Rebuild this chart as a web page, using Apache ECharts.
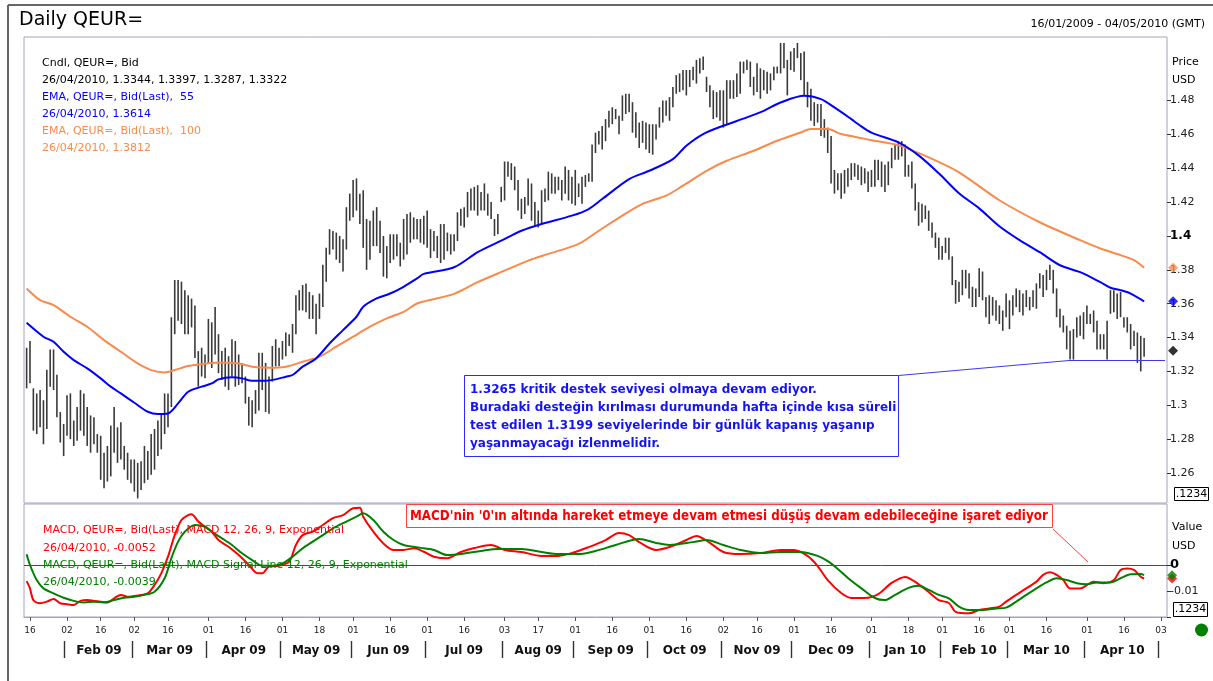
<!DOCTYPE html>
<html>
<head>
<meta charset="utf-8">
<title>Daily QEUR=</title>
<script src="https://cdn.jsdelivr.net/npm/echarts@6/dist/echarts.min.js"></script>
<style>
  html, body { margin: 0; padding: 0; background: #fff; }
  #chart { width: 1213px; height: 681px; }
</style>
</head>
<body>
<div id="chart"></div>
<script>
// x values are trading days (weekdays) counted from 15/01/2009 = day 0
var firstDay = Date.UTC(2009, 0, 15);

// daily high / low of the candles
var high = [
  1.334,1.338,1.310,1.307,1.309,1.303,1.321,1.333,1.333,1.318,
  1.296,1.289,1.306,1.307,1.291,1.299,1.309,1.307,1.299,1.294,
  1.293,1.283,1.282,1.272,1.276,1.288,1.299,1.287,1.290,1.276,
  1.272,1.268,1.268,1.266,1.267,1.276,1.273,1.283,1.286,1.291,
  1.295,1.307,1.307,1.352,1.374,1.374,1.373,1.368,1.365,1.363,
  1.359,1.332,1.334,1.330,1.351,1.349,1.358,1.342,1.332,1.334,
  1.329,1.339,1.338,1.330,1.325,1.317,1.305,1.303,1.309,1.331,
  1.331,1.325,1.317,1.335,1.339,1.334,1.338,1.343,1.342,1.348,
  1.365,1.368,1.371,1.372,1.367,1.365,1.360,1.366,1.383,1.393,
  1.404,1.403,1.402,1.400,1.398,1.417,1.425,1.433,1.434,1.425,
  1.427,1.410,1.409,1.415,1.417,1.409,1.400,1.394,1.401,1.401,
  1.401,1.396,1.410,1.413,1.414,1.411,1.410,1.410,1.412,1.415,
  1.404,1.403,1.400,1.407,1.407,1.402,1.401,1.401,1.414,1.416,
  1.417,1.426,1.428,1.429,1.430,1.426,1.431,1.425,1.420,1.410,
  1.413,1.429,1.444,1.444,1.443,1.441,1.433,1.422,1.423,1.434,
  1.431,1.420,1.415,1.427,1.428,1.438,1.437,1.435,1.435,1.433,
  1.441,1.439,1.435,1.439,1.431,1.435,1.436,1.437,1.454,1.461,
  1.462,1.465,1.469,1.474,1.476,1.475,1.471,1.483,1.484,1.484,
  1.479,1.473,1.467,1.468,1.467,1.466,1.466,1.466,1.476,1.480,
  1.480,1.482,1.488,1.495,1.496,1.498,1.498,1.498,1.500,1.504,
  1.505,1.506,1.494,1.489,1.486,1.485,1.486,1.486,1.492,1.492,
  1.492,1.496,1.503,1.503,1.504,1.503,1.494,1.502,1.499,1.498,
  1.497,1.496,1.500,1.500,1.514,1.514,1.504,1.509,1.511,1.514,
  1.508,1.509,1.491,1.487,1.479,1.478,1.478,1.469,1.464,1.459,
  1.439,1.437,1.437,1.439,1.440,1.443,1.443,1.442,1.441,1.440,
  1.438,1.439,1.445,1.445,1.444,1.442,1.444,1.452,1.454,1.456,
  1.456,1.454,1.442,1.444,1.431,1.420,1.419,1.418,1.415,1.408,
  1.402,1.399,1.394,1.399,1.399,1.388,1.374,1.373,1.380,1.380,
  1.378,1.370,1.369,1.381,1.379,1.364,1.365,1.364,1.362,1.359,
  1.356,1.366,1.362,1.365,1.369,1.368,1.366,1.368,1.364,1.368,
  1.372,1.378,1.377,1.380,1.383,1.380,1.369,1.357,1.353,1.347,
  1.344,1.345,1.352,1.353,1.355,1.359,1.354,1.356,1.350,1.342,
  1.342,1.350,1.368,1.368,1.366,1.367,1.352,1.352,1.348,1.344,
  1.343,1.341,1.3397
];
var low = [
  1.310,1.313,1.285,1.283,1.287,1.277,1.286,1.311,1.309,1.293,
  1.278,1.270,1.282,1.280,1.276,1.279,1.285,1.282,1.276,1.272,
  1.277,1.272,1.256,1.251,1.255,1.258,1.272,1.266,1.268,1.262,
  1.256,1.254,1.249,1.245,1.250,1.254,1.256,1.259,1.262,1.270,
  1.274,1.283,1.287,1.299,1.342,1.350,1.348,1.342,1.342,1.346,
  1.328,1.311,1.317,1.316,1.325,1.322,1.330,1.319,1.315,1.311,
  1.309,1.317,1.311,1.312,1.313,1.301,1.288,1.287,1.295,1.297,
  1.309,1.296,1.295,1.314,1.323,1.323,1.327,1.329,1.335,1.331,
  1.342,1.356,1.356,1.355,1.351,1.351,1.342,1.351,1.358,1.373,
  1.389,1.392,1.386,1.384,1.379,1.392,1.409,1.411,1.415,1.407,
  1.393,1.380,1.386,1.394,1.394,1.390,1.376,1.375,1.384,1.386,
  1.388,1.382,1.386,1.389,1.396,1.398,1.398,1.396,1.395,1.393,
  1.387,1.391,1.387,1.384,1.386,1.391,1.389,1.391,1.397,1.406,
  1.405,1.411,1.415,1.415,1.412,1.415,1.415,1.412,1.410,1.400,
  1.401,1.420,1.421,1.435,1.433,1.427,1.415,1.410,1.413,1.418,
  1.409,1.406,1.405,1.407,1.420,1.421,1.425,1.425,1.427,1.421,
  1.425,1.421,1.419,1.418,1.423,1.419,1.429,1.432,1.432,1.449,
  1.454,1.451,1.456,1.464,1.466,1.469,1.460,1.468,1.472,1.473,
  1.461,1.458,1.452,1.455,1.451,1.449,1.448,1.457,1.464,1.467,
  1.471,1.468,1.476,1.484,1.485,1.486,1.483,1.488,1.492,1.490,
  1.496,1.498,1.485,1.476,1.469,1.470,1.468,1.464,1.466,1.481,
  1.481,1.482,1.484,1.496,1.498,1.488,1.483,1.485,1.481,1.486,
  1.484,1.486,1.492,1.496,1.496,1.499,1.483,1.498,1.497,1.505,
  1.492,1.483,1.476,1.468,1.465,1.467,1.459,1.458,1.449,1.431,
  1.425,1.427,1.422,1.425,1.429,1.433,1.435,1.433,1.430,1.431,
  1.426,1.429,1.429,1.433,1.429,1.426,1.430,1.440,1.445,1.445,
  1.447,1.435,1.435,1.428,1.415,1.406,1.408,1.410,1.403,1.399,
  1.393,1.386,1.386,1.390,1.386,1.371,1.360,1.361,1.365,1.369,
  1.363,1.358,1.358,1.364,1.362,1.352,1.348,1.353,1.350,1.348,
  1.344,1.352,1.345,1.353,1.358,1.355,1.353,1.358,1.356,1.358,
  1.357,1.369,1.364,1.368,1.374,1.366,1.352,1.346,1.343,1.333,
  1.327,1.327,1.340,1.341,1.339,1.348,1.348,1.343,1.333,1.333,
  1.333,1.327,1.354,1.355,1.351,1.352,1.346,1.343,1.333,1.335,
  1.325,1.320,1.3287
];
var lastOpen = 1.3344;
var lastClose = 1.3322;

// EMA 55 and EMA 100
var ema55Day = [0,5,8,11,14,18,22,25,28,32,36,39,42,45,48,52,55,57,61,64,
  67,71,74,77,79,82,86,90,94,98,100,104,108,112,116,118,127,134,141,147,
  153,162,167,171,179,185,192,196,201,207,214,219,224,231,236,240,245,247,251,259,
  265,271,277,283,289,295,301,307,313,319,322,325,328,332];
var ema55 = [1.3487,1.3405,1.3375,1.3316,1.3267,1.3218,1.3159,1.3110,1.3070,1.3015,
  1.2962,1.2948,1.2952,1.3011,1.3080,1.3110,1.3129,1.3153,1.3165,1.3159,
  1.3145,1.3145,1.3153,1.3169,1.3179,1.3228,1.3277,1.3365,1.3444,1.3523,
  1.3582,1.3631,1.3660,1.3700,1.3749,1.3776,1.3815,1.3904,1.3972,1.4031,
  1.4071,1.4120,1.4159,1.4218,1.4336,1.4385,1.4454,1.4533,1.4602,1.4651,
  1.4700,1.4739,1.4788,1.4828,1.4808,1.4759,1.4690,1.4661,1.4610,1.4553,
  1.4476,1.4370,1.4252,1.4163,1.4057,1.3975,1.3904,1.3827,1.3786,1.3727,
  1.3694,1.3680,1.3660,1.3614];
var ema100Day = [0,4,8,13,18,23,28,33,37,41,44,48,52,56,60,63,67,72,77,82,
  87,92,97,102,107,112,116,119,127,134,142,149,155,164,170,177,183,190,195,202,
  208,216,223,230,233,238,242,247,251,259,268,277,289,301,313,319,325,329,332];
var ema100 = [1.3690,1.3621,1.3592,1.3523,1.3464,1.3385,1.3316,1.3247,1.3208,1.3194,
  1.3208,1.3232,1.3243,1.3251,1.3251,1.3247,1.3228,1.3222,1.3228,1.3257,
  1.3287,1.3346,1.3405,1.3464,1.3513,1.3552,1.3601,1.3618,1.3658,1.3727,
  1.3795,1.3854,1.3894,1.3953,1.4031,1.4120,1.4189,1.4238,1.4297,1.4385,
  1.4444,1.4503,1.4562,1.4611,1.4631,1.4631,1.4602,1.4582,1.4565,1.4535,
  1.4464,1.4376,1.4211,1.4081,1.3975,1.3926,1.3887,1.3857,1.3812];

// MACD 12,26,9 and its signal line
var macdDay = [0,1,2,4,6,8,10,12,14,16,18,20,22,24,26,28,30,32,34,36,
  38,40,42,44,46,48,49,51,53,55,57,60,63,66,68,70,72,75,78,80,
  82,85,88,91,94,97,99,100,103,106,109,112,115,118,121,125,129,133,138,142,
  147,153,158,163,167,172,176,179,182,187,191,196,199,203,207,212,218,224,228,232,
  235,238,242,245,249,253,257,261,264,268,271,274,276,280,283,286,289,291,294,297,
  300,302,304,306,308,310,313,315,317,320,323,325,327,329,331,332];
var macd = [-0.0062,-0.0090,-0.0135,-0.0147,-0.0141,-0.0131,-0.0147,-0.0151,-0.0154,-0.0138,
  -0.0135,-0.0138,-0.0141,-0.0144,-0.0128,-0.0115,-0.0122,-0.0119,-0.0115,-0.0109,
  -0.0077,-0.0032,0.0032,0.0115,0.0173,0.0192,0.0195,0.0167,0.0147,0.0128,
  0.0096,0.0070,0.0038,0.0000,-0.0028,-0.0032,-0.0006,-0.0003,0.0013,0.0077,
  0.0115,0.0128,0.0154,0.0180,0.0192,0.0218,0.0220,0.0186,0.0128,0.0083,
  0.0058,0.0058,0.0064,0.0051,0.0032,0.0026,0.0050,0.0065,0.0077,0.0058,
  0.0050,0.0035,0.0035,0.0050,0.0069,0.0096,0.0123,0.0115,0.0088,0.0058,
  0.0069,0.0096,0.0112,0.0085,0.0050,0.0042,0.0046,0.0058,0.0058,0.0035,
  -0.0004,-0.0058,-0.0108,-0.0127,-0.0127,-0.0112,-0.0069,-0.0046,-0.0065,-0.0104,
  -0.0135,-0.0146,-0.0180,-0.0186,-0.0173,-0.0167,-0.0160,-0.0141,-0.0115,-0.0090,
  -0.0064,-0.0038,-0.0028,-0.0038,-0.0058,-0.0090,-0.0090,-0.0077,-0.0064,-0.0070,
  -0.0058,-0.0019,-0.0013,-0.0019,-0.0045,-0.0052];
var signalDay = [0,1,3,5,8,11,14,17,20,23,26,29,32,35,38,41,43,45,47,50,
  53,55,58,61,64,67,70,73,76,79,82,85,88,91,95,98,100,103,106,109,
  112,115,118,121,125,129,135,140,147,153,158,164,169,175,182,187,191,198,202,207,
  212,218,224,230,235,238,241,244,248,252,255,258,262,265,268,271,274,277,280,284,
  288,291,294,297,300,303,306,309,312,315,318,322,325,328,331,332];
var signal = [0.0041,0.0000,-0.0058,-0.0090,-0.0109,-0.0126,-0.0138,-0.0144,-0.0141,-0.0144,
  -0.0135,-0.0126,-0.0122,-0.0115,-0.0103,-0.0051,0.0026,0.0090,0.0128,0.0154,
  0.0147,0.0128,0.0103,0.0077,0.0045,0.0019,-0.0003,-0.0003,0.0006,0.0032,
  0.0064,0.0090,0.0115,0.0141,0.0167,0.0186,0.0199,0.0173,0.0128,0.0096,
  0.0077,0.0070,0.0064,0.0058,0.0038,0.0042,0.0054,0.0062,0.0062,0.0050,
  0.0042,0.0042,0.0054,0.0077,0.0100,0.0085,0.0077,0.0088,0.0096,0.0077,
  0.0058,0.0046,0.0050,0.0050,0.0035,0.0015,-0.0015,-0.0050,-0.0090,-0.0127,
  -0.0135,-0.0115,-0.0088,-0.0080,-0.0096,-0.0115,-0.0128,-0.0160,-0.0173,-0.0173,
  -0.0167,-0.0164,-0.0141,-0.0115,-0.0090,-0.0067,-0.0051,-0.0058,-0.0070,-0.0074,
  -0.0067,-0.0067,-0.0051,-0.0036,-0.0035,-0.0039];

var priceTicks = [1.26, 1.28, 1.3, 1.32, 1.34, 1.36, 1.38, 1.4, 1.42, 1.44, 1.46, 1.48];
var macdTicks = [-0.02, -0.01, 0];
var macdLabels = [-0.01, 0];
var supportLevel = 1.3265;
var supportFrom = 310;
var monthNames = ['Jan', 'Feb', 'Mar', 'Apr', 'May', 'Jun', 'Jul', 'Aug', 'Sep', 'Oct', 'Nov', 'Dec'];

var xMin = -0.78, xMax = 338.8;
var FONT = '"DejaVu Sans", Verdana, sans-serif';

// weekday calendar
var days = [];
for (var t = firstDay; days.length < 380; t += 86400000) {
  var wd = new Date(t).getUTCDay();
  if (wd !== 0 && wd !== 6) days.push(new Date(t));
}

// day labels: first weekday of the month and first weekday from the 16th
var dayTicks = [];
for (var d = 1; d <= xMax; d++) {
  var a = days[d - 1], b = days[d];
  if (a.getUTCMonth() !== b.getUTCMonth() || (a.getUTCDate() < 16 && b.getUTCDate() >= 16)) dayTicks.push(d);
}

// month row
var monthStarts = [];
for (var d2 = 1; d2 < days.length; d2++) {
  if (days[d2].getUTCMonth() !== days[d2 - 1].getUTCMonth()) monthStarts.push(d2);
}
var monthSep = [], monthMid = [], monthText = {};
monthStarts.forEach(function (s, k) {
  if (s > xMax) return;
  monthSep.push(s - 0.7);
  var e = monthStarts[k + 1];
  if (e !== undefined && e <= xMax + 1) {
    var mid = (s + e - 1) / 2;
    monthMid.push(mid);
    var dt = days[s];
    monthText[Math.round(mid * 2)] = monthNames[dt.getUTCMonth()] + ' ' + String(dt.getUTCFullYear()).slice(2);
  }
});

var bars = high.map(function (h, i) { return [i, h, low[i]]; });
function pairs(xs, ys) { return xs.map(function (x, i) { return [x, ys[i]]; }); }
var lastDay = high.length - 1;
var markerDay = xMax + 1.8;

var chart = echarts.init(document.getElementById('chart'));

function txt(x, y, text, color, font, extra) {
  return {
    type: 'text', x: x, y: y, z: 100,
    style: Object.assign({ text: text, fill: color, font: font, textVerticalAlign: 'middle', verticalAlign: 'middle' }, extra || {})
  };
}
var f11 = '11px ' + FONT;

var option = {
  backgroundColor: '#fff',
  animation: false,
  grid: [
    { left: 24, right: 46, top: 37, height: 466, show: true, borderColor: '#a4a4bc', borderWidth: 1 },
    { left: 24, right: 46, top: 504, height: 113, show: true, borderColor: '#a4a4bc', borderWidth: 1 }
  ],
  xAxis: [
    { type: 'value', gridIndex: 0, min: xMin, max: xMax, show: false },
    {
      type: 'value', gridIndex: 1, position: 'bottom', min: xMin, max: xMax,
      axisLine: { show: true, onZero: false, lineStyle: { color: '#a4a4bc' } },
      axisTick: { show: true, customValues: dayTicks, length: 4, lineStyle: { color: '#555' } },
      axisLabel: {
        customValues: dayTicks, margin: 9, fontSize: 9, fontFamily: FONT, color: '#222',
        formatter: function (v) { var n = days[Math.round(v)].getUTCDate(); return (n < 10 ? '0' : '') + n; }
      },
      splitLine: { show: false }
    },
    {
      type: 'value', gridIndex: 1, position: 'bottom', min: xMin, max: xMax, offset: 24,
      axisLine: { show: false, onZero: false },
      axisTick: { show: true, customValues: monthSep, length: 17, lineStyle: { color: '#333', width: 1.4 } },
      axisLabel: {
        customValues: monthMid, margin: 4, fontSize: 12, fontWeight: 'bold', fontFamily: FONT, color: '#111',
        formatter: function (v) { return monthText[Math.round(v * 2)] || ''; }
      },
      splitLine: { show: false }
    }
  ],
  yAxis: [
    {
      type: 'value', gridIndex: 0, position: 'right', min: 1.2423, max: 1.5175,
      axisLine: { show: false, onZero: false },
      axisTick: { show: true, customValues: priceTicks, length: 4, lineStyle: { color: '#333' } },
      axisLabel: {
        customValues: priceTicks, margin: 3, fontSize: 11, fontFamily: FONT, color: '#222',
        formatter: function (v) {
          var s = String(+v.toFixed(2));
          return Math.abs(v - 1.4) < 1e-6 ? '{b|' + s + '}' : s;
        },
        rich: { b: { fontSize: 12, fontWeight: 'bold', fontFamily: FONT, color: '#000' } }
      },
      splitLine: { show: false }
    },
    {
      type: 'value', gridIndex: 1, position: 'right', min: -0.02, max: 0.02346,
      axisLine: { show: false, onZero: false },
      axisTick: { show: true, customValues: macdTicks, length: 4, lineStyle: { color: '#333' } },
      axisLabel: {
        customValues: macdLabels, margin: 3, fontSize: 11, fontFamily: FONT, color: '#222',
        formatter: function (v) { return v === 0 ? '{b|0}' : String(v); },
        rich: { b: { fontSize: 13, fontWeight: 'bold', fontFamily: FONT, color: '#000' } }
      },
      splitLine: { show: false }
    }
  ],
  series: [
    {
      name: 'Cndl', type: 'custom', xAxisIndex: 0, yAxisIndex: 0, z: 2,
      encode: { x: 0, y: [1, 2] },
      renderItem: function (params, api) {
        var top = api.coord([api.value(0), api.value(1)]);
        var bottom = api.coord([api.value(0), api.value(2)]);
        return {
          type: 'line',
          shape: { x1: top[0], y1: top[1], x2: bottom[0], y2: bottom[1] },
          style: { stroke: '#3a3a3a', lineWidth: 1.6 }
        };
      },
      data: bars
    },
    {
      name: 'EMA 100', type: 'line', xAxisIndex: 0, yAxisIndex: 0, z: 3,
      data: pairs(ema100Day, ema100), showSymbol: false, smooth: 0.3,
      lineStyle: { color: '#f98a4c', width: 2 }
    },
    {
      name: 'EMA 55', type: 'line', xAxisIndex: 0, yAxisIndex: 0, z: 4,
      data: pairs(ema55Day, ema55), showSymbol: false, smooth: 0.3,
      lineStyle: { color: '#0000ff', width: 2 },
      markLine: {
        silent: true, symbol: 'none', label: { show: false },
        lineStyle: { color: '#3a3ae6', width: 1, type: 'solid' },
        data: [[{ coord: [supportFrom, supportLevel] }, { coord: [xMax - 0.6, supportLevel] }]]
      }
    },
    {
      type: 'scatter', xAxisIndex: 0, yAxisIndex: 0, z: 10, clip: false,
      symbol: 'diamond', symbolSize: 10, silent: true,
      data: [
        { value: [markerDay, ema100[ema100.length - 1]], itemStyle: { color: '#f98a4c' } },
        { value: [markerDay, ema55[ema55.length - 1]], itemStyle: { color: '#0000ff' } },
        { value: [markerDay, lastClose], itemStyle: { color: '#000' } }
      ]
    },
    {
      name: 'MACD', type: 'line', xAxisIndex: 1, yAxisIndex: 1, z: 3,
      data: pairs(macdDay, macd), showSymbol: false, smooth: 0.3,
      lineStyle: { color: '#ff0000', width: 2 },
      markLine: {
        silent: true, symbol: 'none', label: { show: false },
        lineStyle: { color: '#ff0000', width: 1, type: 'solid' },
        data: [{ yAxis: 0 }]
      }
    },
    {
      name: 'Signal', type: 'line', xAxisIndex: 1, yAxisIndex: 1, z: 4,
      data: pairs(signalDay, signal), showSymbol: false, smooth: 0.3,
      lineStyle: { color: '#008000', width: 2 }
    },
    {
      type: 'scatter', xAxisIndex: 1, yAxisIndex: 1, z: 10, clip: false,
      symbol: 'diamond', symbolSize: 10, silent: true,
      data: [
        { value: [markerDay - 0.3, macd[macd.length - 1]], itemStyle: { color: '#ff0000' } },
        { value: [markerDay - 0.3, signal[signal.length - 1]], itemStyle: { color: '#008000' } }
      ]
    }
  ],
  graphic: [
    { type: 'line', z: 100, shape: { x1: 8, y1: 5, x2: 1213, y2: 5 }, style: { stroke: '#666', lineWidth: 2 } },
    { type: 'line', z: 100, shape: { x1: 8, y1: 5, x2: 8, y2: 681 }, style: { stroke: '#666', lineWidth: 2 } },
    txt(19, 20, 'Daily QEUR=', '#000', '19px ' + FONT),
    txt(1205, 24, '16/01/2009 - 04/05/2010 (GMT)', '#000', f11, { textAlign: 'right', align: 'right' }),
    txt(42, 63, 'Cndl, QEUR=, Bid', '#000', f11),
    txt(42, 80, '26/04/2010, ' + [lastOpen, high[lastDay], low[lastDay], lastClose].map(function (v) { return v.toFixed(4); }).join(', '), '#000', f11),
    txt(42, 97, 'EMA, QEUR=, Bid(Last),  55', '#0000ff', f11),
    txt(42, 114, '26/04/2010, ' + ema55[ema55.length - 1].toFixed(4), '#0000ff', f11),
    txt(42, 131, 'EMA, QEUR=, Bid(Last),  100', '#f98a4c', f11),
    txt(42, 148, '26/04/2010, ' + ema100[ema100.length - 1].toFixed(4), '#f98a4c', f11),
    txt(43, 530, 'MACD, QEUR=, Bid(Last), MACD 12, 26, 9, Exponential', '#ff0000', f11),
    txt(43, 548, '26/04/2010, ' + macd[macd.length - 1].toFixed(4), '#ff0000', f11),
    txt(43, 565, 'MACD, QEUR=, Bid(Last), MACD Signal Line 12, 26, 9, Exponential', '#008000', f11),
    txt(43, 582, '26/04/2010, ' + signal[signal.length - 1].toFixed(4), '#008000', f11),
    txt(1172, 62, 'Price', '#000', f11),
    txt(1172, 80, 'USD', '#000', f11),
    txt(1172, 527, 'Value', '#000', f11),
    txt(1172, 546, 'USD', '#000', f11),
    { type: 'rect', z: 100, shape: { x: 1174.5, y: 487.5, width: 34, height: 13 }, style: { fill: '#fff', stroke: '#000', lineWidth: 1 } },
    txt(1191.5, 494, '.1234', '#000', f11, { textAlign: 'center', align: 'center' }),
    { type: 'rect', z: 100, shape: { x: 1173.5, y: 602.5, width: 34, height: 14 }, style: { fill: '#fff', stroke: '#000', lineWidth: 1 } },
    txt(1190.5, 609.5, '.1234', '#000', f11, { textAlign: 'center', align: 'center' }),
    { type: 'circle', z: 100, shape: { cx: 1201.5, cy: 630, r: 6.5 }, style: { fill: '#008000' } },
    // blue support note
    { type: 'rect', z: 100, shape: { x: 464.5, y: 375.5, width: 434, height: 81 }, style: { fill: '#fff', stroke: '#2a2aff', lineWidth: 1 } },
    {
      type: 'text', x: 470, y: 381, z: 101,
      style: {
        text: '1.3265 kritik destek seviyesi olmaya devam ediyor.\nBuradaki desteğin kırılması durumunda hafta içinde kısa süreli\ntest edilen 1.3199 seviyelerinde bir günlük kapanış yaşanıp\nyaşanmayacağı izlenmelidir.',
        fill: '#1414f0', font: 'bold 12px ' + FONT, lineHeight: 18
      }
    },
    // red MACD note
    { type: 'rect', z: 100, shape: { x: 406.5, y: 504.5, width: 646, height: 23 }, style: { fill: '#fff', stroke: '#ff4040', lineWidth: 1 } },
    {
      type: 'text', x: 410, y: 516, z: 101, scaleX: 0.852,
      style: {
        text: "MACD'nin '0'ın altında hareket etmeye devam etmesi düşüş devam edebileceğine işaret ediyor",
        fill: '#ff0000', font: 'bold 14px ' + FONT, textVerticalAlign: 'middle', verticalAlign: 'middle'
      }
    },
    { type: 'line', z: 100, shape: { x1: 1053, y1: 529, x2: 1088, y2: 562 }, style: { stroke: '#ff4040', lineWidth: 1 } }
  ]
};

chart.setOption(option);

// connector from the note box to the support line
var p = chart.convertToPixel({ xAxisIndex: 0, yAxisIndex: 0 }, [supportFrom, supportLevel]);
chart.setOption({
  graphic: option.graphic.concat([
    { type: 'line', z: 99, shape: { x1: 898.5, y1: 375.5, x2: p[0], y2: p[1] }, style: { stroke: '#3a3ae6', lineWidth: 1 } }
  ])
});
</script>
</body>
</html>
